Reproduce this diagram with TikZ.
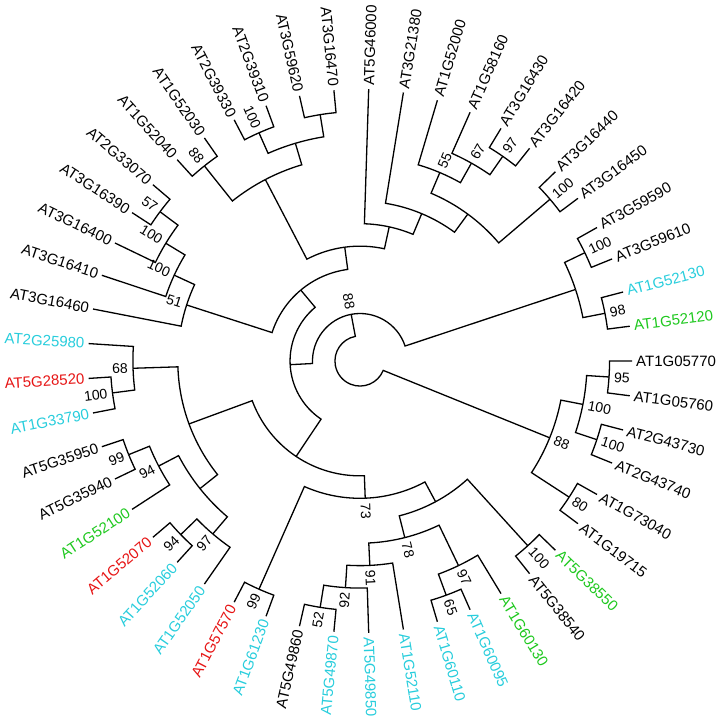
\documentclass[tikz,border=0pt]{standalone}
\usepackage{fontspec}
\setmainfont{Liberation Sans}
\usetikzlibrary{positioning}

\definecolor{tipcyan}{RGB}{40,205,220}
\definecolor{tipgreen}{RGB}{30,200,30}
\definecolor{tipred}{RGB}{230,20,20}

% elbow from a child up to its parent (radial piece, then arc piece)
\newcommand{\branch}[2]{%
    \edef\brA{\csname ang#1\endcsname}%
    \edef\brB{\csname ang#2\endcsname}%
    \edef\brR{\csname rad#2\endcsname}%
    \draw[edge] (#1) -- (\brA:\brR pt) arc[start angle=\brA, end angle=\brB, radius=\brR pt];}

% leaf: name, index (clockwise from the right), colour, text
\newcommand{\leaf}[4]{%
    \pgfmathsetmacro{\leafang}{-(#2-1)*7.346939}%
    \expandafter\let\csname ang#1\endcsname\leafang
    \coordinate (#1) at (\leafang:272pt);
    \pgfmathtruncatemacro{\onleft}{cos(\leafang)<0}%
    \ifnum\onleft=1
        \node (#1txt)[tiplabel, text=#3, anchor=east, rotate=\leafang+180] at (#1) {#4};
    \else
        \node (#1txt)[tiplabel, text=#3, anchor=west, rotate=\leafang] at (#1) {#4};
    \fi}

% clade: name, child, child, height, support value
\newcommand{\clade}[5]{%
    \pgfmathsetmacro{\cladeang}{(\csname ang#2\endcsname+\csname ang#3\endcsname)/2}%
    \pgfmathsetmacro{\claderad}{272-22.45*#4}%
    \expandafter\let\csname ang#1\endcsname\cladeang
    \expandafter\let\csname rad#1\endcsname\claderad
    \coordinate (#1) at (\cladeang:\claderad pt);
    \branch{#2}{#1}\branch{#3}{#1}%
    \if\relax\detokenize{#5}\relax\else
        \pgfmathtruncatemacro{\onleft}{cos(\cladeang)<0}%
        \ifnum\onleft=1
            \node (#1val)[support, anchor=east, rotate=\cladeang+180] at (#1) {#5};
        \else
            \node (#1val)[support, anchor=west, rotate=\cladeang] at (#1) {#5};
        \fi
    \fi}

\begin{document}
\begin{tikzpicture}[
    x=1pt, y=1pt,
    edge/.style={draw=black, line width=1.3pt},
    tiplabel/.style={font=\fontsize{15}{18}\selectfont, inner xsep=4pt, inner ysep=0pt},
    support/.style={font=\fontsize{14}{16}\selectfont, inner xsep=5pt, inner ysep=0pt},
]
    \useasboundingbox (-360, -359) rectangle (360, 361);

    \leaf{t1}{1}{black}{AT1G05770}
    \leaf{t2}{2}{black}{AT1G05760}
    \leaf{t3}{3}{black}{AT2G43730}
    \leaf{t4}{4}{black}{AT2G43740}
    \leaf{t5}{5}{black}{AT1G73040}
    \leaf{t6}{6}{black}{AT1G19715}
    \leaf{t7}{7}{tipgreen}{AT5G38550}
    \leaf{t8}{8}{black}{AT5G38540}
    \leaf{t9}{9}{tipgreen}{AT1G60130}
    \leaf{t10}{10}{tipcyan}{AT1G60095}
    \leaf{t11}{11}{tipcyan}{AT1G60110}
    \leaf{t12}{12}{tipcyan}{AT1G52110}
    \leaf{t13}{13}{tipcyan}{AT5G49850}
    \leaf{t14}{14}{tipcyan}{AT5G49870}
    \leaf{t15}{15}{black}{AT5G49860}
    \leaf{t16}{16}{tipcyan}{AT1G61230}
    \leaf{t17}{17}{tipred}{AT1G57570}
    \leaf{t18}{18}{tipcyan}{AT1G52050}
    \leaf{t19}{19}{tipcyan}{AT1G52060}
    \leaf{t20}{20}{tipred}{AT1G52070}
    \leaf{t21}{21}{tipgreen}{AT1G52100}
    \leaf{t22}{22}{black}{AT5G35940}
    \leaf{t23}{23}{black}{AT5G35950}
    \leaf{t24}{24}{tipcyan}{AT1G33790}
    \leaf{t25}{25}{tipred}{AT5G28520}
    \leaf{t26}{26}{tipcyan}{AT2G25980}
    \leaf{t27}{27}{black}{AT3G16460}
    \leaf{t28}{28}{black}{AT3G16410}
    \leaf{t29}{29}{black}{AT3G16400}
    \leaf{t30}{30}{black}{AT3G16390}
    \leaf{t31}{31}{black}{AT2G33070}
    \leaf{t32}{32}{black}{AT1G52040}
    \leaf{t33}{33}{black}{AT1G52030}
    \leaf{t34}{34}{black}{AT2G39330}
    \leaf{t35}{35}{black}{AT2G39310}
    \leaf{t36}{36}{black}{AT3G59620}
    \leaf{t37}{37}{black}{AT3G16470}
    \leaf{t38}{38}{black}{AT5G46000}
    \leaf{t39}{39}{black}{AT3G21380}
    \leaf{t40}{40}{black}{AT1G52000}
    \leaf{t41}{41}{black}{AT1G58160}
    \leaf{t42}{42}{black}{AT3G16430}
    \leaf{t43}{43}{black}{AT3G16420}
    \leaf{t44}{44}{black}{AT3G16440}
    \leaf{t45}{45}{black}{AT3G16450}
    \leaf{t46}{46}{black}{AT3G59590}
    \leaf{t47}{47}{black}{AT3G59610}
    \leaf{t48}{48}{tipcyan}{AT1G52130}
    \leaf{t49}{49}{tipgreen}{AT1G52120}

    % right-hand group
    \clade{a95}{t1}{t2}{1}{95}
    \clade{a100b}{t3}{t4}{1}{100}
    \clade{a100}{a95}{a100b}{2}{100}
    \clade{a80}{t5}{t6}{1}{80}
    \clade{a88}{a100}{a80}{3}{88}

    % lower group
    \clade{n100s}{t7}{t8}{1}{100}
    \clade{n65}{t10}{t11}{1}{65}
    \clade{n97b}{t9}{n65}{2}{97}
    \clade{n52}{t14}{t15}{1}{52}
    \clade{n92}{t13}{n52}{2}{92}
    \clade{n91}{t12}{n92}{3}{91}
    \clade{n78}{n91}{n97b}{4}{78}
    \clade{g38550}{n78}{n100s}{5}{}
    \clade{n99}{t16}{t17}{1}{99}
    \clade{n73}{g38550}{n99}{6}{73}

    % left group
    \clade{n94b}{t19}{t20}{1}{94}
    \clade{n97}{t18}{n94b}{2}{97}
    \clade{n99b}{t22}{t23}{1}{99}
    \clade{n94}{t21}{n99b}{2}{94}
    \clade{g52100}{n97}{n94}{3}{}
    \clade{n100c}{t24}{t25}{1}{100}
    \clade{n68}{t26}{n100c}{2}{68}
    \clade{g25980}{g52100}{n68}{4}{}
    \clade{glower}{n73}{g25980}{7}{}

    % upper group
    \clade{n57}{t30}{t31}{1}{57}
    \clade{n100d}{t29}{n57}{2}{100}
    \clade{n100e}{t28}{n100d}{3}{100}
    \clade{n51}{t27}{n100e}{4}{51}
    \clade{n88b}{t32}{t33}{1}{88}
    \clade{n100f}{t34}{t35}{1}{100}
    \clade{g59620}{t36}{t37}{1}{}
    \clade{g39310}{n100f}{g59620}{2}{}
    \clade{g52030}{n88b}{g39310}{3}{}
    \clade{n97c}{t42}{t43}{1}{97}
    \clade{n67}{t41}{n97c}{2}{67}
    \clade{n55}{t40}{n67}{3}{55}
    \clade{n100g}{t44}{t45}{1}{100}
    \clade{g16440}{n55}{n100g}{4}{}
    \clade{g21380}{t39}{g16440}{5}{}
    \clade{g46000}{t38}{g21380}{6}{}
    \clade{gtop}{g52030}{g46000}{7}{}
    \clade{gupper}{n51}{gtop}{8}{}
    \clade{gmain}{glower}{gupper}{9}{}

    \clade{n100h}{t46}{t47}{1}{100}
    \clade{n98}{t48}{t49}{1}{98}
    \clade{g59590}{n100h}{n98}{2}{}
    \clade{gbig}{gmain}{g59590}{10}{88}
    \clade{root}{a88}{gbig}{11}{}
\end{tikzpicture}
\end{document}
